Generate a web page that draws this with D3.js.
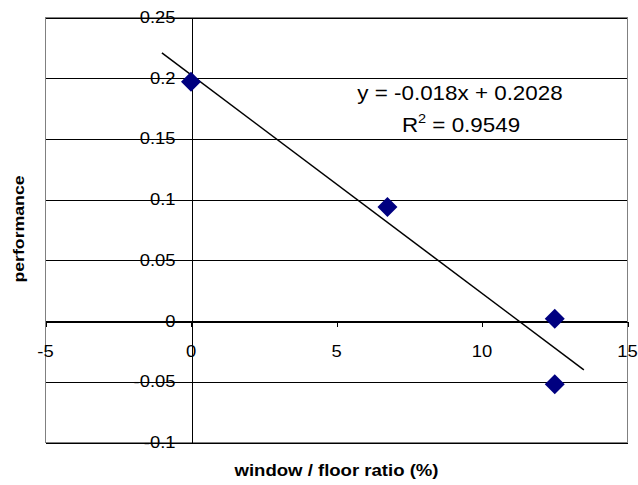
<!DOCTYPE html>
<html>
<head>
<meta charset="utf-8">
<script src="https://cdn.jsdelivr.net/npm/d3@7"></script>
<style>
  html, body { margin: 0; padding: 0; background: #fff; }
  svg { display: block; }
  text { font-family: "Liberation Sans", Arial, sans-serif; fill: #000; }
</style>
</head>
<body>
<svg id="chart" width="638" height="485"></svg>
<script>
// ---- data ----
const xValues = [0, 6.75, 12.5, 12.5];
const yValues = [0.197, 0.094, 0.002, -0.052];
const xTicks = [-5, 0, 5, 10, 15];
const yTicks = [-0.1, -0.05, 0, 0.05, 0.1, 0.15, 0.2, 0.25];
const trendSlope = -0.018;
const trendIntercept = 0.2028;
const trendRange = [-1, 13.5];
const equationText = "y = -0.018x + 0.2028";
const r2Prefix = "R";
const r2Sup = "2";
const r2Value = " = 0.9549";
const xTitle = "window / floor ratio (%)";
const yTitle = "performance";

// ---- layout ----
const svg = d3.select("#chart");
const mL = 45.5, mR = 627.5, mT = 17.5, mB = 442.5;
const x = d3.scaleLinear().domain([-5, 15]).range([mL, mR]);
const y = d3.scaleLinear().domain([-0.1, 0.25]).range([mB, mT]);

const fmt = v => String(+v.toFixed(2));

// horizontal gridlines
svg.append("g").selectAll("line").data(yTicks).join("line")
  .attr("x1", mL).attr("x2", mR)
  .attr("y1", d => Math.round(y(d)) + 0.5).attr("y2", d => Math.round(y(d)) + 0.5)
  .attr("stroke", "#000").attr("stroke-width", 1).attr("shape-rendering", "crispEdges");

// plot border
svg.append("rect")
  .attr("x", mL).attr("y", mT).attr("width", mR - mL).attr("height", mB - mT)
  .attr("fill", "none").attr("stroke", "#808080").attr("stroke-width", 1)
  .attr("shape-rendering", "crispEdges");

// y axis at x=0
const x0 = Math.round(x(0)) + 0.5;
const yAxis = d3.axisLeft(y).tickValues(yTicks).tickSize(5).tickSizeOuter(0).tickFormat("");
svg.append("g").attr("transform", `translate(${x0},0)`).call(yAxis)
  .call(g => g.selectAll("line,path").attr("stroke", "#000").attr("shape-rendering", "crispEdges"));

// x axis at y=0
const y0 = Math.round(y(0)) + 0.5;
const xAxis = d3.axisBottom(x).tickValues(xTicks).tickSize(5).tickSizeOuter(0).tickFormat("");
svg.append("g").attr("transform", `translate(0,${y0})`).call(xAxis)
  .call(g => g.selectAll("line,path").attr("stroke", "#000").attr("shape-rendering", "crispEdges"));

// y tick labels
svg.append("g").selectAll("text").data(yTicks).join("text")
  .attr("transform", d => `translate(${x0 - 16},${y(d) + 5.5}) scale(1.15,1)`)
  .attr("text-anchor", "end").attr("font-size", 16)
  .text(d => fmt(d));

// x tick labels
svg.append("g").selectAll("text").data(xTicks).join("text")
  .attr("transform", d => `translate(${x(d)},${y0 + 35.5}) scale(1.15,1)`)
  .attr("text-anchor", "middle").attr("font-size", 16)
  .text(d => d);

// trendline
const trendData = trendRange.map(v => [v, trendSlope * v + trendIntercept]);
svg.append("path")
  .datum(trendData)
  .attr("d", d3.line().x(d => x(d[0])).y(d => y(d[1])))
  .attr("fill", "none").attr("stroke", "#000").attr("stroke-width", 1.5);

// markers
const pts = xValues.map((v, i) => [v, yValues[i]]);
svg.append("g").selectAll("path").data(pts).join("path")
  .attr("d", d3.symbol().type(d3.symbolSquare).size(200))
  .attr("transform", d => `translate(${x(d[0])},${y(d[1])}) rotate(45)`)
  .attr("fill", "#000080");

// equation
svg.append("text")
  .attr("transform", `translate(460,100) scale(1.12,1)`)
  .attr("text-anchor", "middle").attr("font-size", 20)
  .text(equationText);
const r2 = svg.append("text")
  .attr("transform", `translate(461,131.5) scale(1.12,1)`)
  .attr("text-anchor", "middle").attr("font-size", 20);
r2.append("tspan").text(r2Prefix);
r2.append("tspan").attr("dy", -9).attr("font-size", 13).text(r2Sup);
r2.append("tspan").attr("dy", 9).text(r2Value);

// axis titles
svg.append("text")
  .attr("transform", `translate(${(mL + mR) / 2},${476}) scale(1.16,1)`)
  .attr("text-anchor", "middle").attr("font-size", 16).attr("font-weight", "bold")
  .text(xTitle);
svg.append("text")
  .attr("transform", `translate(24,${(mT + mB) / 2 - 1}) rotate(-90) scale(1.18,1)`)
  .attr("text-anchor", "middle").attr("font-size", 15).attr("font-weight", "bold")
  .text(yTitle);
</script>
</body>
</html>
